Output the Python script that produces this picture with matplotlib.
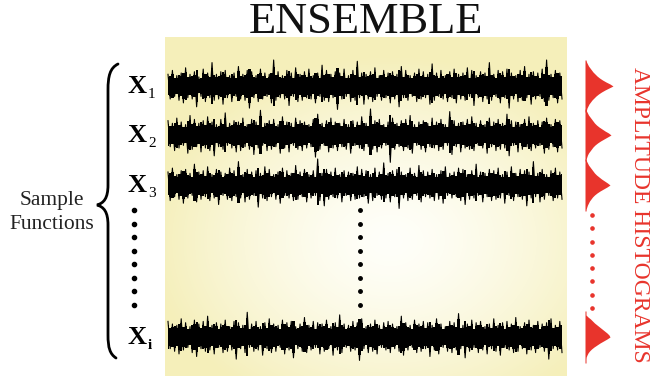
import numpy as np
import matplotlib.pyplot as plt
from matplotlib.path import Path
from matplotlib.patches import PathPatch

plt.rcParams['font.family'] = ['Liberation Serif', 'DejaVu Serif']

# ---------------------------------------------------------------
# sample functions (amplitude of upward / downward excursions)
# ---------------------------------------------------------------
x1_up = [9, 12, 8, 10, 14, 9, 11, 7, 13, 10, 18, 9, 11, 12, 8, 10, 15, 9, 12, 11,
         8, 13, 10, 9, 20, 11, 8, 12, 10, 14, 9, 11, 13, 8, 10, 16, 12, 9, 11, 10,
         13, 8, 12, 19, 10, 9, 11, 14, 8, 12, 10, 11, 9, 15, 12, 8, 10, 13, 11, 9,
         17, 10, 12, 8, 11, 13, 9, 10, 14, 12, 8, 11, 10, 18, 9, 12, 11, 13, 10, 8,
         12, 15, 9, 11, 10, 13, 20, 9, 12, 10]
x1_dn = [10, 8, 11, 13, 9, 10, 16, 8, 12, 9, 11, 10, 14, 9, 12, 8, 10, 11, 17, 9,
         12, 10, 8, 13, 11, 9, 10, 15, 8, 12, 11, 9, 10, 13, 8, 11, 12, 9, 18, 10,
         8, 12, 11, 9, 14, 10, 12, 8, 11, 9, 13, 10, 16, 9, 11, 8, 12, 10, 9, 14,
         11, 8, 10, 12, 9, 13, 10, 11, 8, 15, 9, 12, 10, 11, 8, 13, 9, 17, 10, 12,
         11, 9, 14, 10, 8, 12, 11, 9, 13, 10]

x2_up = [11, 9, 13, 10, 8, 15, 12, 9, 11, 14, 10, 8, 12, 17, 9, 11, 10, 13, 8, 12,
         10, 19, 9, 11, 12, 8, 14, 10, 9, 13, 11, 10, 8, 12, 16, 9, 11, 13, 10, 9,
         12, 8, 11, 10, 14, 9, 20, 11, 12, 8, 10, 13, 9, 11, 12, 15, 8, 10, 11, 9,
         13, 10, 12, 8, 18, 11, 9, 10, 12, 14, 9, 11, 8, 13, 10, 12, 9, 16, 11, 10,
         8, 12, 14, 9, 11, 10, 13, 8, 12, 11]
x2_dn = [9, 12, 10, 8, 14, 11, 9, 13, 10, 12, 16, 9, 11, 8, 10, 13, 12, 9, 11, 15,
         10, 8, 12, 11, 9, 14, 10, 13, 8, 11, 12, 10, 9, 17, 11, 8, 13, 10, 12, 9,
         11, 14, 8, 10, 12, 9, 11, 13, 10, 8, 21, 11, 9, 12, 10, 14, 8, 11, 13, 9,
         10, 12, 11, 8, 15, 9, 13, 10, 11, 12, 8, 10, 14, 9, 12, 11, 10, 16, 8, 13,
         11, 9, 12, 10, 8, 14, 11, 9, 13, 10]

x3_up = [10, 13, 8, 11, 12, 9, 16, 10, 11, 14, 8, 12, 10, 9, 13, 11, 18, 8, 12, 10,
         11, 9, 14, 12, 8, 10, 13, 11, 9, 15, 10, 12, 8, 11, 20, 9, 12, 10, 13, 8,
         11, 10, 9, 14, 12, 11, 8, 13, 10, 17, 9, 11, 12, 10, 8, 13, 9, 15, 11, 10,
         12, 8, 11, 14, 9, 10, 13, 12, 8, 11, 16, 10, 9, 12, 11, 13, 8, 10, 14, 9,
         12, 11, 10, 18, 9, 12, 8, 11, 13, 10]
x3_dn = [12, 9, 11, 14, 10, 8, 13, 11, 9, 12, 10, 15, 8, 11, 12, 9, 10, 13, 11, 8,
         17, 10, 12, 9, 11, 14, 8, 10, 12, 11, 9, 13, 10, 8, 12, 16, 11, 9, 10, 13,
         8, 12, 11, 10, 9, 14, 12, 8, 11, 10, 13, 9, 18, 10, 12, 11, 8, 13, 9, 10,
         12, 11, 14, 8, 10, 9, 12, 15, 11, 10, 8, 13, 9, 12, 11, 10, 14, 8, 12, 9,
         11, 16, 10, 9, 13, 11, 8, 12, 10, 11]

xi_up = [12, 10, 9, 14, 11, 8, 13, 10, 12, 16, 9, 11, 10, 13, 8, 12, 11, 9, 19, 10,
         12, 8, 11, 14, 10, 9, 13, 11, 12, 8, 10, 15, 9, 12, 11, 10, 13, 8, 11, 17,
         10, 9, 12, 11, 14, 8, 10, 13, 9, 11, 12, 10, 8, 16, 11, 9, 13, 10, 12, 11,
         9, 14, 10, 8, 12, 11, 18, 9, 10, 13, 11, 12, 8, 10, 14, 9, 11, 12, 10, 15,
         8, 11, 13, 9, 12, 10, 11, 14, 9, 12]
xi_dn = [9, 11, 13, 10, 8, 12, 15, 9, 11, 10, 13, 8, 12, 11, 10, 17, 9, 12, 8, 11,
         10, 14, 9, 12, 11, 8, 13, 10, 16, 9, 11, 12, 10, 8, 13, 11, 9, 14, 10, 12,
         8, 11, 10, 18, 9, 12, 11, 13, 8, 10, 12, 9, 11, 14, 10, 8, 12, 11, 9, 15,
         10, 13, 8, 11, 12, 10, 9, 16, 11, 8, 12, 10, 13, 9, 11, 14, 8, 10, 12, 11,
         9, 13, 10, 12, 8, 11, 17, 9, 10, 12]

labels = ['1', '2', '3', 'i']

# amplitude histograms (counts per bin, bin offset from trace centre)
hist_offsets = [-26, -24, -22, -20, -18, -16, -14, -12, -10, -8, -6, -4, -2, 0,
                2, 4, 6, 8, 10, 12, 14, 16, 18, 20, 22, 24, 26]
hist_1 = [1, 1.5, 2.5, 3.5, 5, 6.5, 8, 10, 12, 14.5, 17.5, 21, 25, 28,
          24, 20, 16.5, 13.5, 11, 9, 7, 5.5, 4, 3, 2, 1.5, 1]
hist_2 = [1, 1.5, 2.5, 3.5, 5, 6.5, 8, 9.5, 11.5, 14, 17, 20, 23.5, 26,
          22.5, 19, 15.5, 12.5, 10, 8, 6.5, 5, 3.5, 2.5, 1.8, 1.2, 1]
hist_3 = [1, 1.5, 2.5, 3.5, 5, 6.5, 8, 9.5, 11.5, 14, 16.5, 19.5, 22.5, 25,
          22, 18.5, 15, 12, 9.5, 7.5, 6, 4.5, 3.5, 2.5, 1.8, 1.2, 1]
hist_i = [1, 1, 1, 3, 5.5, 7.5, 9.5, 12, 14.5, 17, 19.5, 22, 24, 25,
          22, 18.5, 15, 12, 9, 6.5, 4.5, 3, 2, 1.2, 1, 1, 1]

traces = [(x1_up, x1_dn, hist_1), (x2_up, x2_dn, hist_2),
          (x3_up, x3_dn, hist_3), (xi_up, xi_dn, hist_i)]
centres = [86, 135, 185, 337]
px_per_unit = 1.3
red = '#e8342c'

fig = plt.figure(figsize=(6.51, 3.76), dpi=100)
ax = fig.add_axes([0, 0, 1, 1])
ax.set_xlim(0, 651)
ax.set_ylim(376, 0)
ax.axis('off')

# yellow panel, fading to white towards the middle
gx, gy = np.meshgrid(np.arange(165, 567), np.arange(37, 376))
r = np.sqrt(((gx - 390) / 240.0) ** 2 + ((gy - 240) / 185.0) ** 2)
t = np.clip(r, 0, 1) ** 1.4
edge = np.array([245, 239, 186]) / 255.0
mid = np.array([255, 255, 250]) / 255.0
img = mid[None, None, :] * (1 - t[..., None]) + edge[None, None, :] * t[..., None]
ax.imshow(img, extent=[165, 567, 376, 37], origin='upper', aspect='auto',
          interpolation='bilinear', zorder=0)

for (up, dn, h), c, lab in zip(traces, centres, labels):
    v = np.empty(len(up) + len(dn))
    v[0::2] = up
    v[1::2] = -np.array(dn)
    v = v * px_per_unit
    xs = np.linspace(168, 562, len(v))
    core = 0.75 * np.abs(v)
    ax.fill_between(xs, c - core, c + core, step='mid', color='black', lw=0, zorder=2)
    ax.plot(xs, c - v, color='black', lw=0.8, zorder=3)

    hy = c + np.array(hist_offsets)
    ax.fill_betweenx(hy, 585, 585 + np.array(h), color=red, lw=0, zorder=2)

    ax.text(127, c + 7, 'X', fontsize=19, fontweight='bold', ha='left',
            va='baseline', zorder=4)
    ax.text(148, c + 12, lab, fontsize=11, fontweight='bold' if lab == 'i' else 'normal',
            ha='left', va='baseline', zorder=4)

# ellipsis dots
ax.plot(np.full(8, 134), np.linspace(210, 305, 8), 'o', color='black', ms=3.0, zorder=4)
ax.plot(np.full(8, 360), np.linspace(210, 305, 8), 'o', color='black', ms=2.5, zorder=4)
ax.plot(np.full(8, 592), np.linspace(215, 308, 8), 'o', color=red, ms=2.3, zorder=4)

# curly brace
verts = [(118, 64), (110, 68), (108, 76), (108, 90),
         (108, 185),
         (108, 198), (104, 203), (97, 205),
         (104, 207), (108, 212), (108, 225),
         (108, 335),
         (108, 348), (110, 354), (116, 358)]
codes = [Path.MOVETO, Path.CURVE4, Path.CURVE4, Path.CURVE4,
         Path.LINETO,
         Path.CURVE4, Path.CURVE4, Path.CURVE4,
         Path.CURVE4, Path.CURVE4, Path.CURVE4,
         Path.LINETO,
         Path.CURVE4, Path.CURVE4, Path.CURVE4]
ax.add_patch(PathPatch(Path(verts, codes), fill=False, lw=2.0, color='black',
                       capstyle='round', zorder=4))

ax.text(52, 205, 'Sample', fontsize=15.5, ha='center', va='baseline', color='#222222')
ax.text(52, 229, 'Functions', fontsize=15.5, ha='center', va='baseline', color='#222222')

ax.text(366, 33, 'ENSEMBLE', fontsize=32, ha='center', va='baseline', color='#111111')

ax.text(640, 215, 'AMPLITUDE HISTOGRAMS', fontsize=17, rotation=-90, ha='center',
        va='center', color=red)

fig.savefig('out.png', dpi=100)
